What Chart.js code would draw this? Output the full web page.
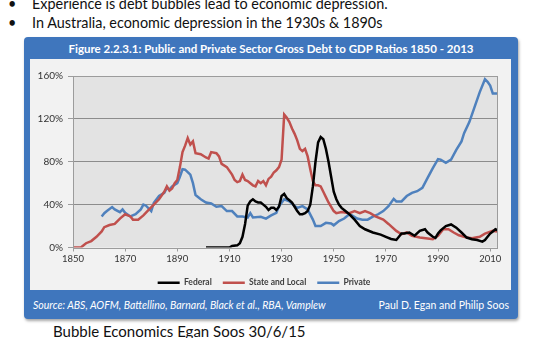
<!DOCTYPE html>
<html>
<head>
<meta charset="utf-8">
<script src="https://cdn.jsdelivr.net/npm/chart.js@4.4.1/dist/chart.umd.min.js"></script>
<style>
    body { margin: 0; width: 555px; height: 338px; background: #fff; overflow: hidden; position: relative; font-family: Lato, "Open Sans", sans-serif; }
    .line { position: absolute; left: 0; font-size: 14.4px; line-height: 19px; color: #111; white-space: nowrap; }
    .line .dot { position: absolute; left: 8px; }
    .line .txt { position: absolute; left: 32px; }
    #frame { position: absolute; left: 24px; top: 37px; width: 494px; height: 282px; background: #3f76bd; border-radius: 4px; box-shadow: 1px 2px 3px rgba(0,0,0,0.35); }
    #title { position: absolute; left: 24px; top: 40px; width: 494px; text-align: center; color: #fff; font-weight: bold; font-size: 11.5px; line-height: 18px; }
    #panel { position: absolute; left: 30px; top: 59px; width: 481px; height: 231px; background: #f2f2f2; }
    #chartBox { position: absolute; left: 30px; top: 59px; width: 481px; height: 238px; }
    #source { position: absolute; left: 33px; top: 297px; color: #fff; font-style: italic; font-size: 10.5px; line-height: 16px; white-space: nowrap; }
    #authors { position: absolute; right: 46px; top: 297px; color: #fff; font-size: 10.5px; line-height: 16px; white-space: nowrap; }
    #footer { position: absolute; left: 53px; top: 322px; font-size: 15px; line-height: 19px; color: #111; white-space: nowrap; }
</style>
</head>
<body>
<div class="line" style="top:-6px"><span class="dot">•</span><span class="txt">Experience is debt bubbles lead to economic depression.</span></div>
<div class="line" style="top:13px"><span class="dot">•</span><span class="txt">In Australia, economic depression in the 1930s &amp; 1890s</span></div>
<div id="frame"></div>
<div id="title">Figure 2.2.3.1: Public and Private Sector Gross Debt to GDP Ratios 1850 - 2013</div>
<div id="panel"></div>
<div id="chartBox"><canvas id="debtChart"></canvas></div>
<div id="source">Source: ABS, AOFM, Battellino, Barnard, Black et al., RBA, Vamplew</div>
<div id="authors">Paul D. Egan and Philip Soos</div>
<div id="footer">Bubble Economics Egan Soos 30/6/15</div>

<script>
// ========== 数据 ==========
const xTicks = [1850, 1870, 1890, 1910, 1930, 1950, 1970, 1990, 2010];
const yTicks = [0, 40, 80, 120, 160];

const federalYears = [1901, 1910, 1911, 1913, 1914, 1915, 1916, 1917, 1918, 1919, 1920, 1921, 1922, 1923, 1924, 1925, 1926, 1927, 1928, 1929,
    1930, 1931, 1932, 1933, 1934, 1935, 1936, 1937, 1938, 1939, 1940, 1941, 1942, 1943, 1944, 1945, 1946, 1947, 1948, 1949,
    1950, 1951, 1952, 1953, 1954, 1956, 1958, 1960, 1962, 1965, 1968, 1970, 1972, 1974, 1975, 1976, 1977, 1979, 1981, 1983,
    1985, 1986, 1988, 1989, 1990, 1991, 1993, 1995, 1997, 1999, 2001, 2003, 2005, 2007, 2008, 2009, 2010, 2011, 2012, 2013];
const federalDebt = [0, 0, 1.5, 2, 4, 10, 22, 39, 43, 45, 43, 42, 42, 40, 38, 35, 37, 37, 35, 38,
    48, 50, 46, 44, 42, 38, 34, 31, 31, 32, 34, 40, 57, 80, 98, 103, 101, 92, 80, 66,
    52, 45, 40, 37, 35, 31, 26, 20, 17, 14, 12, 10, 8, 7, 10, 13, 13, 14, 11, 15.5,
    17, 14, 10, 9, 13, 16, 20, 21.5, 18.5, 14, 9.3, 7.7, 7, 5.5, 7, 10, 13, 15, 17, 16];

const stateYears = [1850, 1853, 1855, 1857, 1859, 1861, 1862, 1864, 1866, 1868, 1870, 1872, 1873, 1875, 1877, 1879, 1881, 1883, 1885, 1886,
    1887, 1888, 1889, 1890, 1891, 1892, 1893, 1894, 1895, 1896, 1897, 1899, 1901, 1902, 1903, 1905, 1906, 1907, 1909, 1911,
    1912, 1913, 1914, 1915, 1916, 1917, 1919, 1920, 1921, 1922, 1923, 1924, 1925, 1926, 1927, 1928, 1929, 1930, 1931, 1932,
    1933, 1934, 1935, 1936, 1937, 1938, 1939, 1940, 1941, 1942, 1943, 1944, 1945, 1946, 1947, 1948, 1950, 1951, 1953, 1956,
    1958, 1960, 1962, 1964, 1966, 1969, 1971, 1974, 1976, 1978, 1980, 1983, 1986, 1988, 1990, 1992, 1994, 1996, 1998, 2001,
    2003, 2006, 2008, 2011, 2013];
const stateDebt = [0, 0, 4, 6, 10, 15, 19, 21, 22, 27, 31, 29, 26, 26, 30, 35, 40, 45, 52, 57,
    53, 55, 60, 63, 75, 89, 95, 102, 96, 99, 88, 87, 84, 83, 89, 88, 85, 78, 75, 68,
    63, 61, 62, 68, 63, 62, 58, 57, 62, 60, 62, 58, 64, 66, 70, 72, 75, 82, 124, 121,
    117, 111, 106, 100, 92, 90, 92, 85, 73, 62, 58, 58, 57, 52, 47, 42, 34, 32, 33, 32,
    34, 32, 34, 32, 29, 26, 22, 15.5, 12.4, 14, 11, 9.3, 8.3, 7.7, 11, 17, 17, 14, 11.4, 9.3,
    8.7, 10, 13, 15.5, 15];

const privateYears = [1861, 1862, 1863, 1865, 1866, 1868, 1869, 1870, 1872, 1874, 1876, 1877, 1878, 1880, 1881, 1883, 1885, 1886, 1887, 1888,
    1890, 1891, 1892, 1893, 1895, 1896, 1897, 1899, 1901, 1903, 1905, 1907, 1909, 1911, 1913, 1915, 1917, 1918, 1919, 1922,
    1924, 1926, 1928, 1929, 1931, 1933, 1935, 1936, 1938, 1940, 1942, 1943, 1945, 1947, 1949, 1950, 1952, 1954, 1956, 1957,
    1959, 1961, 1963, 1965, 1967, 1969, 1971, 1973, 1974, 1976, 1978, 1980, 1982, 1984, 1986, 1988, 1990, 1991, 1993, 1995,
    1997, 1999, 2000, 2002, 2004, 2006, 2008, 2009, 2010, 2011, 2013];
const privateDebt = [29, 32, 34, 37.7, 35.5, 33, 35.5, 32.4, 29, 31, 35.5, 40, 39, 34, 41.7, 48, 51, 55.6, 54, 57,
    60, 66, 73, 72.6, 68, 60, 49, 45, 42, 41, 38, 38.6, 34, 34, 29, 29, 28, 32, 28, 28.7,
    27, 30, 32.4, 38.6, 45, 43, 38.6, 37, 38.6, 35.5, 26, 20, 20, 23, 22.5, 20.7, 24.7, 27, 31, 30,
    27, 26, 26, 28.7, 31, 34, 38.6, 45.4, 43, 43, 48, 51, 52.5, 55.6, 65, 74, 82.5, 82, 79, 82,
    91, 99, 106.6, 117, 131, 145, 157, 154.5, 151, 143.7, 143.7];

const seriesNames = ['Federal', 'State and Local', 'Private'];
const seriesColors = ['#000000', '#c0504d', '#4f81bd'];

function toPoints(years, values) {
    return years.map((yr, i) => ({ x: yr, y: values[i] }));
}

// ========== 绘图区背景 ==========
const plotBackground = {
    id: 'plotBackground',
    beforeDraw(chart) {
        const { ctx, chartArea: a } = chart;
        ctx.save();
        ctx.fillStyle = '#e3e3e3';
        ctx.fillRect(a.left, a.top, a.width, a.height);
        ctx.restore();
    },
    afterDatasetsDraw(chart) {
        const { ctx, chartArea: a } = chart;
        ctx.save();
        ctx.strokeStyle = '#9c9c9c';
        ctx.lineWidth = 1;
        ctx.strokeRect(Math.round(a.left) + 0.5, Math.round(a.top) + 0.5, Math.round(a.width) - 1, Math.round(a.height));
        ctx.restore();
    }
};

const ctx = document.getElementById('debtChart').getContext('2d');
new Chart(ctx, {
    type: 'line',
    data: {
        datasets: [
            { label: seriesNames[0], data: toPoints(federalYears, federalDebt) },
            { label: seriesNames[1], data: toPoints(stateYears, stateDebt) },
            { label: seriesNames[2], data: toPoints(privateYears, privateDebt) }
        ].map((ds, i) => Object.assign(ds, {
            borderColor: seriesColors[i],
            backgroundColor: seriesColors[i],
            borderWidth: 2.5,
            pointRadius: 0,
            tension: 0,
            fill: false
        }))
    },
    options: {
        responsive: true,
        maintainAspectRatio: false,
        animation: false,
        layout: { padding: { top: 17, right: 13, left: 0, bottom: 0 } },
        scales: {
            x: {
                type: 'linear',
                min: 1850,
                max: 2013,
                afterBuildTicks: scale => { scale.ticks = xTicks.map(v => ({ value: v })); },
                afterFit: scale => { scale.height = 20; },
                ticks: { color: '#333', font: { family: 'Lato', size: 9.5 }, padding: 2, maxRotation: 0, autoSkip: false, callback: v => String(v) },
                grid: { drawOnChartArea: false, drawTicks: true, tickLength: 4, color: '#9c9c9c' },
                border: { display: false }
            },
            y: {
                min: 0,
                max: 160,
                afterBuildTicks: scale => { scale.ticks = yTicks.map(v => ({ value: v })); },
                afterFit: scale => { scale.width = 43; },
                ticks: { color: '#333', font: { family: 'Lato', size: 10 }, padding: 5, callback: v => v + '%' },
                grid: { color: ctx => ctx.tick && ctx.tick.value === 0 ? 'rgba(0,0,0,0)' : '#8c8c8c', tickLength: 5, tickColor: '#9c9c9c' },
                border: { display: false }
            }
        },
        plugins: {
            legend: {
                position: 'bottom',
                labels: {
                    usePointStyle: true,
                    pointStyle: 'line',
                    pointStyleWidth: 22,
                    padding: 11,
                    color: '#404040',
                    font: { family: 'Lato', size: 8.5, weight: 'bold' }
                }
            },
            tooltip: { enabled: false }
        }
    },
    plugins: [plotBackground]
});
</script>
</body>
</html>
